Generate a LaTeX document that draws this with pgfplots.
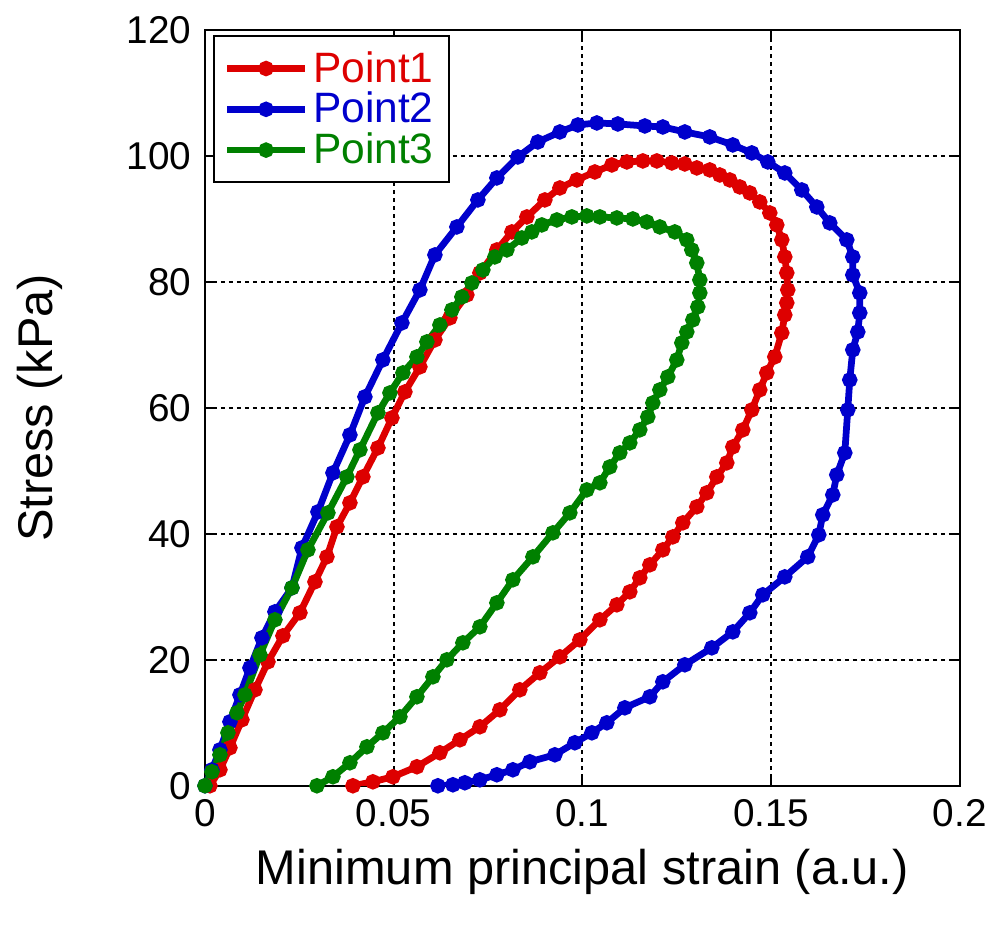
\documentclass[border=0pt]{standalone}
\usepackage{pgfplots}
\pgfplotsset{compat=1.18}
\usepackage{fontspec}
\setmainfont{Liberation Sans}
\definecolor{cred}{RGB}{221,0,0}
\definecolor{cblue}{RGB}{0,0,204}
\definecolor{cgreen}{RGB}{0,128,0}
\begin{document}
\begin{tikzpicture}
\begin{axis}[
 scale only axis, width=302pt, height=302.4pt,
 xmin=0, xmax=0.2, ymin=0, ymax=120,
 xtick={0,0.05,0.1,0.15,0.2}, xticklabels={0,0.05,0.1,0.15,0.2},
 ytick={0,20,40,60,80,100,120},
 scaled ticks=false,
 tick align=inside, major tick length=4pt,
 grid=major,
 major grid style={black, line width=0.8pt, dash pattern=on 1.6pt off 1.6pt},
 axis line style={black, line width=0.8pt},
 every tick/.style={black, line width=0.8pt},
 tick label style={font=\fontsize{15.5}{18}\selectfont},
 xticklabel style={yshift=-2pt},
 yticklabel style={xshift=-2pt},
 /pgf/number format/assume math mode=true,
 xlabel={Minimum principal strain (a.u.)},
 ylabel={Stress (kPa)},
 label style={font=\fontsize{19.5}{23}\selectfont},
 xlabel style={at={(axis description cs:0.5,-0.1138)}, anchor=center},
 ylabel style={at={(axis description cs:-0.2185,0.5)}, anchor=center},
 legend style={at={(axis description cs:0.0106,0.993)}, anchor=north west,
   draw=black, line width=0.8pt, fill=white,
   font=\fontsize{17}{19}\selectfont, row sep=-1.5pt, inner sep=4pt,
   cells={anchor=west}},
 legend image code/.code={\draw[#1, mark repeat=2, mark phase=2] plot coordinates {(0pt,0pt) (15.5pt,0pt) (31pt,0pt)};},
 every axis plot/.append style={line width=2.7pt, mark=*, mark size=1.7pt, mark options={solid}},
]
\addplot[cred] coordinates {
(0.00132,0) (0.00397,2.54) (0.00662,6.03) (0.00980,10.48) (0.01325,15.24) (0.01669,19.68)
(0.02066,23.81) (0.02517,27.46) (0.02914,32.38) (0.03232,36.35) (0.03497,41.11) (0.03841,44.92)
(0.04185,49.05) (0.04583,53.65) (0.04954,58.41) (0.05298,62.54) (0.05695,66.51) (0.06093,70.79)
(0.06490,74.29) (0.06940,77.94) (0.07285,81.43) (0.07735,85.08) (0.08132,87.94) (0.08530,90.32)
(0.09007,93.02) (0.09404,94.92) (0.09854,96.19) (0.10331,97.46) (0.10781,98.57) (0.11179,99.05)
(0.11603,99.21) (0.11974,99.21) (0.12371,98.89) (0.12715,98.73) (0.13033,98.10) (0.13377,97.78)
(0.13642,96.98) (0.13907,96.19) (0.14172,95.08) (0.14437,94.13) (0.14702,92.70) (0.14967,90.95)
(0.15152,89.05) (0.15285,86.67) (0.15364,83.97) (0.15417,81.43) (0.15443,78.73) (0.15417,76.67)
(0.15364,74.76) (0.15285,71.90) (0.15099,68.10) (0.14887,65.56) (0.14702,62.86) (0.14490,59.68)
(0.14252,56.51) (0.13987,53.81) (0.13828,51.27) (0.13563,49.05) (0.13298,46.51) (0.13033,44.29)
(0.12662,41.75) (0.12397,39.52) (0.12132,37.46) (0.11788,35.08) (0.11523,33.02) (0.11258,30.79)
(0.10914,28.73) (0.10464,26.35) (0.09934,23.17) (0.09404,20.48) (0.08874,17.94) (0.08344,15.24)
(0.07815,12.06) (0.07285,9.37) (0.06755,7.30) (0.06225,5.24) (0.05616,3.02) (0.04980,1.43)
(0.04450,0.63) (0.03920,0)
};
\addlegendentry{\textcolor{cred}{Point1}}
\addplot[cblue] coordinates {
(0,0) (0.00185,2.54) (0.00397,5.71) (0.00662,10.16) (0.00927,14.44) (0.01192,18.73)
(0.01510,23.49) (0.01854,27.62) (0.02305,31.43) (0.02570,37.78) (0.02993,43.49) (0.03391,49.68)
(0.03841,55.71) (0.04238,61.75) (0.04715,67.62) (0.05219,73.49) (0.05695,78.73) (0.06093,84.29)
(0.06675,88.73) (0.07232,93.02) (0.07735,96.51) (0.08291,99.84) (0.08821,102.22) (0.09404,103.81)
(0.09881,104.92) (0.10384,105.24) (0.10940,105.08) (0.11656,104.76) (0.12132,104.60) (0.12715,103.81)
(0.13377,103.02) (0.13987,101.75) (0.14490,100.48) (0.14914,99.05) (0.15364,97.30) (0.15815,94.60)
(0.16212,91.90) (0.16556,89.37) (0.17007,86.67) (0.17166,83.97) (0.17166,81.11) (0.17351,78.25)
(0.17351,75.08) (0.17298,72.06) (0.17166,69.21) (0.17086,64.44) (0.17033,59.68) (0.16954,52.86)
(0.16742,49.37) (0.16636,46.19) (0.16371,43.02) (0.16265,39.84) (0.15973,36.35) (0.15364,33.17)
(0.14781,30.32) (0.14437,27.46) (0.13987,24.44) (0.13430,21.90) (0.12715,19.21) (0.12132,16.51)
(0.11788,14.13) (0.11126,12.38) (0.10649,10.00) (0.10252,8.41) (0.09801,6.83) (0.09272,4.92)
(0.08609,3.81) (0.08159,2.54) (0.07735,1.75) (0.07285,0.95) (0.06887,0.48) (0.06570,0.16)
(0.06172,0)
};
\addlegendentry{\textcolor{cblue}{Point2}}
\addplot[cgreen] coordinates {
(0,0) (0.00185,2.22) (0.00397,4.92) (0.00609,8.41) (0.00848,11.59) (0.01060,14.44)
(0.01457,20.79) (0.01854,26.35) (0.02305,31.43) (0.02728,37.46) (0.03258,43.33) (0.03761,49.05)
(0.04106,53.33) (0.04583,59.21) (0.04901,62.38) (0.05245,65.56) (0.05616,68.10) (0.05881,70.48)
(0.06225,73.17) (0.06543,75.56) (0.06808,77.62) (0.07073,79.84) (0.07364,81.90) (0.07682,83.97)
(0.08000,85.08) (0.08397,86.98) (0.08662,87.94) (0.08927,89.05) (0.09325,89.84) (0.09722,90.32)
(0.10119,90.48) (0.10464,90.32) (0.10914,90.16) (0.11338,90.00) (0.11709,89.52) (0.12053,88.73)
(0.12450,87.94) (0.12768,86.67) (0.12900,85.08) (0.13033,83.02) (0.13113,80.32) (0.13113,78.25)
(0.13060,76.03) (0.12927,73.97) (0.12768,72.06) (0.12636,70.32) (0.12503,67.62) (0.12265,64.92)
(0.12053,62.86) (0.11868,60.79) (0.11735,58.57) (0.11523,56.51) (0.11258,54.44) (0.10993,52.86)
(0.10728,50.63) (0.10464,48.10) (0.10119,46.98) (0.09669,43.33) (0.09218,40.16) (0.08689,36.35)
(0.08159,32.70) (0.07735,29.05) (0.07285,25.24) (0.06834,22.70) (0.06410,20.00) (0.06040,17.30)
(0.05616,14.13) (0.05166,10.95) (0.04715,8.41) (0.04291,6.19) (0.03841,3.65) (0.03391,1.43)
(0.02967,0)
};
\addlegendentry{\textcolor{cgreen}{Point3}}
\end{axis}
\path ([xshift=-82pt,yshift=-56pt]current axis.south west) rectangle ([xshift=14pt,yshift=12pt]current axis.north east);
\end{tikzpicture}
\end{document}
